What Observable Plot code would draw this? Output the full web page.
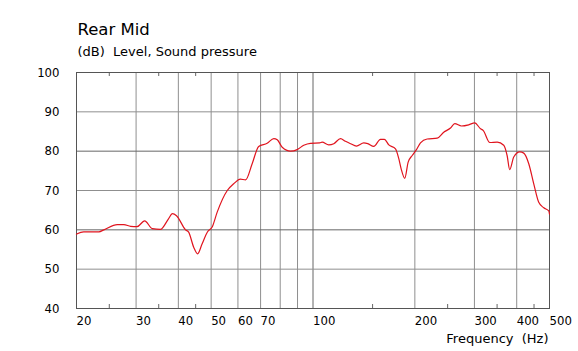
<!DOCTYPE html>
<html>
<head>
<meta charset="utf-8">
<script src="https://cdn.jsdelivr.net/npm/d3@7"></script>
<script src="https://cdn.jsdelivr.net/npm/@observablehq/plot@0.6"></script>
<style>
  html, body { margin: 0; padding: 0; background: #fff; }
</style>
</head>
<body>
<div id="chart"></div>
<script>
const title = "Rear Mid";
const subtitle = "(dB)  Level, Sound pressure";
const xTitle = "Frequency  (Hz)";

const freq = [20, 20.1, 21.0, 23.3, 24.1, 26.4, 27.6, 28.9, 30.2, 31.8, 33.5, 35.4, 37.4, 38.4, 39.5, 42.0, 42.9, 44.4, 45.6, 47.0, 48.7, 50.4, 52.1, 55.8, 58.3, 61.0, 63.2, 66.1, 69.1, 73.2, 76.6, 78.4, 81.1, 85.8, 89.8, 93.9, 98.3, 104.7, 106.4, 111.3, 115.2, 120.6, 124.7, 129.1, 134.4, 141.3, 145.2, 151.2, 158.3, 162.6, 167.5, 175.3, 179.3, 182.2, 186.7, 191.1, 196.4, 202.2, 207.8, 217.4, 232.9, 243.4, 254.9, 262.4, 274.7, 288.6, 300.6, 312.6, 318.3, 333.0, 350.2, 366.2, 374.7, 381.4, 392.0, 408.4, 419.7, 434.2, 449.2, 464.7, 480.9, 497.5, 500];
const level = [58.9, 59.0, 59.5, 59.5, 60.0, 61.3, 61.3, 60.9, 60.8, 62.3, 60.3, 60.1, 62.8, 64.1, 63.6, 60.0, 59.4, 55.6, 53.9, 56.4, 59.4, 60.8, 64.5, 70.0, 71.7, 72.9, 72.7, 76.8, 81.2, 82.0, 83.2, 82.9, 81.0, 80.0, 80.4, 81.5, 82.0, 82.1, 82.3, 81.6, 81.9, 83.2, 82.5, 81.9, 81.3, 82.1, 81.9, 81.2, 83.0, 83.0, 81.6, 80.6, 78.1, 75.5, 73.1, 77.2, 78.9, 80.4, 82.1, 83.1, 83.3, 84.8, 85.9, 87.0, 86.4, 86.7, 87.2, 85.7, 85.3, 82.2, 82.3, 81.5, 78.9, 75.3, 78.5, 79.8, 79.5, 76.8, 71.7, 67.0, 65.6, 64.8, 64.0];

const xLabels = [20, 30, 40, 50, 60, 70, 80, 100, 200, 300, 400, 500];
const xGridLight = [30, 40, 50, 60, 70, 80, 90, 200, 300, 400];
const xGridDark = [100];
const xMinor = [25, 35, 45, 150, 250, 350, 450];
const yLabels = [40, 50, 60, 70, 80, 90, 100];
const yGridLight = [50, 70, 90];
const yGridDark = [60, 80];

const data = freq.map((f, i) => ({f, v: level[i]}));

const plot = Plot.plot({
  width: 578,
  height: 351,
  marginLeft: 76,
  marginRight: 29,
  marginTop: 72,
  marginBottom: 43,
  style: {fontFamily: "'DejaVu Sans Condensed', 'DejaVu Sans', sans-serif", fontSize: "13px", color: "#000", background: "#fff"},
  x: {type: "log", domain: [20, 500], label: null},
  y: {domain: [40, 100], label: null},
  marks: [
    Plot.ruleX(xGridLight, {stroke: "#8f8f8f", strokeWidth: 1}),
    Plot.ruleX(xGridDark, {stroke: "#666", strokeWidth: 1}),
    Plot.ruleY(yGridLight, {stroke: "#8f8f8f", strokeWidth: 1}),
    Plot.ruleY(yGridDark, {stroke: "#666", strokeWidth: 1}),
    Plot.ruleX(xMinor, {stroke: "#666", insetTop: 232}),
    Plot.ruleX(xMinor, {stroke: "#666", insetBottom: 232}),
    Plot.frame({stroke: "#555"}),
    Plot.axisX({ticks: xLabels, tickSize: 0, tickPadding: 7, textAnchor: "start", tickFormat: d => String(d), fontSize: 13, label: null}),
    Plot.axisY({ticks: yLabels, tickSize: 0, tickPadding: 17, tickFormat: d => String(d), fontSize: 13, label: null}),
    Plot.line(data, {x: "f", y: "v", stroke: "#e0141e", strokeWidth: 1.2, curve: "monotone-x"}),
    Plot.text([title], {text: d => d, frameAnchor: "top-left", textAnchor: "start", lineAnchor: "top", dx: 1, dy: -49.7, fontSize: 16.5, fontFamily: "'DejaVu Sans', sans-serif", fill: "#000"}),
    Plot.text([subtitle], {text: d => d, frameAnchor: "top-left", textAnchor: "start", lineAnchor: "top", dx: 1, dy: -26, fontSize: 13, fontFamily: "'DejaVu Sans', sans-serif", fill: "#000"}),
    Plot.text([xTitle], {text: d => d, frameAnchor: "bottom-right", textAnchor: "end", lineAnchor: "top", dx: -1, dy: 25, fontSize: 13, fontFamily: "'DejaVu Sans', sans-serif", fill: "#000"})
  ]
});
document.getElementById("chart").appendChild(plot);
</script>
</body>
</html>
